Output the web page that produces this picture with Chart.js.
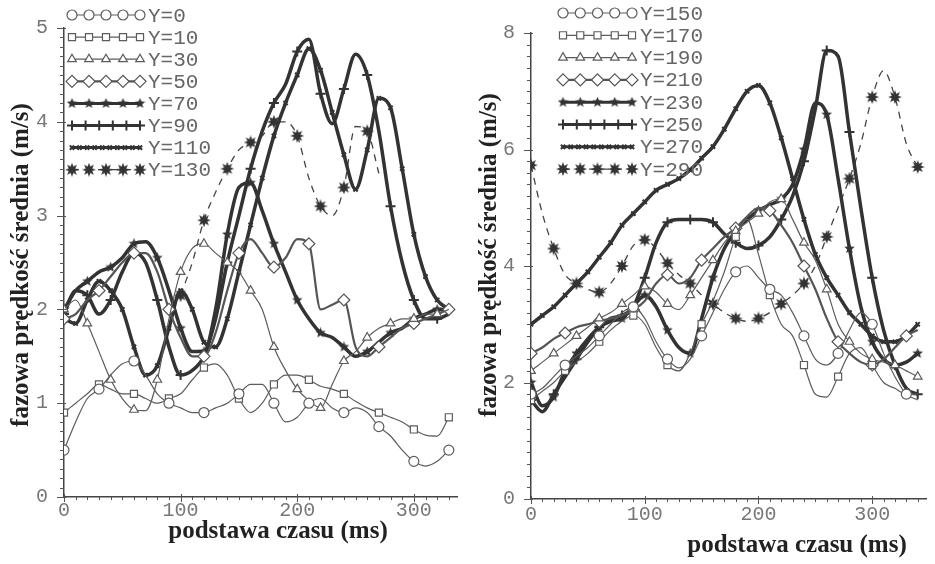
<!DOCTYPE html>
<html lang="pl">
<head>
    <meta charset="UTF-8">
    <title>fazowa prędkość średnia</title>
    <script src="https://cdn.jsdelivr.net/npm/chart.js"></script>
    <style>
        body {
            margin: 0;
            background: #fff;
            width: 935px;
            height: 564px;
            overflow: hidden;
            position: relative;
        }
        .panel {
            position: absolute;
            top: 0;
            width: 470px;
            height: 564px;
        }
        #left { left: 0; }
        #right { left: 465px; }
    </style>
</head>
<body>
    <div class="panel" id="left"><canvas id="chartLeft" width="470" height="564"></canvas></div>
    <div class="panel" id="right"><canvas id="chartRight" width="470" height="564"></canvas></div>

    <script>
        // time base (ms)
        const timeLeft = [0,10,20,30,40,50,60,70,80,90,100,110,120,130,140,150,160,170,180,190,200,210,220,230,240,250,260,270,280,290,300,310,320,330];
        const timeRight = [0,10,20,30,40,50,60,70,80,90,100,110,120,130,140,150,160,170,180,190,200,210,220,230,240,250,260,270,280,290,300,310,320,330,340];

        const namesLeft = ['Y=0', 'Y=10', 'Y=30', 'Y=50', 'Y=70', 'Y=90', 'Y=110', 'Y=130'];
        const namesRight = ['Y=150', 'Y=170', 'Y=190', 'Y=210', 'Y=230', 'Y=250', 'Y=270', 'Y=290'];

        // left panel, mean phase velocity (m/s)
        const vY0 = [0.5,0.8,1.05,1.15,1.3,1.42,1.45,1.3,1.1,1.0,0.95,0.9,0.9,0.95,1.0,1.1,1.2,1.2,1.0,0.8,0.85,1.0,1.05,0.95,0.9,0.95,0.9,0.75,0.65,0.5,0.38,0.33,0.38,0.5];
        const vY10 = [0.9,1.0,1.1,1.2,1.15,1.1,1.1,1.05,1.0,1.05,1.1,1.25,1.38,1.42,1.3,1.05,0.9,1.0,1.2,1.3,1.3,1.25,1.18,1.15,1.1,1.02,0.95,0.9,0.85,0.8,0.72,0.66,0.65,0.85];
        const vY30 = [2.0,2.1,1.85,1.55,1.25,1.05,0.93,0.92,1.25,1.9,2.4,2.65,2.7,2.6,2.5,2.4,2.2,2.0,1.6,1.35,1.15,1.03,0.95,1.2,1.45,1.55,1.7,1.8,1.85,1.9,1.9,1.95,1.95,2.0];
        const vY50 = [1.9,1.95,2.1,2.2,2.35,2.5,2.6,2.6,2.4,2.0,1.7,1.5,1.5,1.75,2.2,2.6,2.75,2.6,2.45,2.55,2.75,2.7,2.0,2.05,2.1,1.6,1.5,1.6,1.7,1.8,1.85,1.9,1.95,2.0];
        const vY70 = [2.0,2.2,2.3,2.4,2.45,2.55,2.7,2.72,2.55,2.2,1.8,1.55,1.55,2.0,2.8,3.3,3.35,3.05,2.7,2.4,2.1,1.9,1.75,1.7,1.6,1.5,1.55,1.65,1.75,1.8,1.9,1.95,2.0,2.0];
        const vY90 = [1.95,2.2,2.15,1.95,2.1,2.4,2.6,2.5,2.1,1.6,1.3,1.35,1.5,1.9,2.5,3.0,3.5,3.9,4.2,4.4,4.75,4.88,4.3,3.98,4.35,4.72,4.5,3.9,3.1,2.5,2.1,1.9,1.9,1.95];
        const vY110 = [1.9,1.85,2.1,2.3,2.2,2.0,1.6,1.3,1.4,1.8,2.2,2.0,1.65,1.6,1.9,2.4,2.9,3.4,3.85,4.2,4.5,4.78,4.55,4.1,3.65,3.28,3.7,4.25,4.15,3.5,2.8,2.35,2.1,2.0];
        const vY130 = [null,null,null,null,null,null,null,null,null,null,2.15,2.5,2.95,3.25,3.5,3.7,3.78,3.85,4.0,4.0,3.85,3.4,3.1,3.0,3.3,3.95,3.9,3.45,null,null,null,null,null,null];

        // right panel
        const vY150 = [1.8,1.9,2.1,2.3,2.45,2.6,2.8,3.0,3.2,3.3,3.1,2.7,2.4,2.25,2.4,2.8,3.2,3.6,3.9,4.0,3.8,3.6,3.5,3.2,2.8,2.4,2.3,2.5,2.9,3.2,3.0,2.5,2.1,1.8,1.7];
        const vY170 = [1.7,1.85,2.0,2.2,2.35,2.5,2.7,2.9,3.05,3.15,3.0,2.6,2.3,2.2,2.5,3.0,3.4,3.9,4.5,4.8,4.2,3.5,3.0,2.8,2.3,1.8,1.75,2.1,2.5,2.6,2.3,2.0,1.9,1.8,1.8];
        const vY190 = [2.2,2.35,2.5,2.65,2.8,2.95,3.1,3.2,3.35,3.5,3.65,3.55,3.35,3.25,3.5,3.8,4.1,4.4,4.6,4.75,4.9,5.1,5.15,4.8,4.4,4.1,3.6,3.0,2.7,2.5,2.4,2.35,2.3,2.2,2.1];
        const vY210 = [2.5,2.6,2.75,2.85,2.95,3.0,3.05,3.1,3.15,3.25,3.4,3.7,3.85,3.7,3.8,4.1,4.3,4.5,4.65,4.85,5.0,4.95,4.7,4.4,4.0,3.6,3.1,2.7,2.5,2.35,2.3,2.4,2.6,2.8,2.9];
        const vY230 = [2.0,1.6,1.75,2.2,2.5,2.75,2.95,3.05,3.1,3.3,3.5,3.3,2.9,2.6,2.5,3.1,3.8,4.3,4.6,4.8,4.95,5.05,5.15,5.4,6.0,6.8,6.6,5.5,4.3,3.3,2.7,2.4,2.3,2.35,2.5];
        const vY250 = [1.7,1.5,1.8,2.1,2.4,2.7,2.95,3.1,3.15,3.3,3.8,4.4,4.75,4.8,4.8,4.8,4.75,4.55,4.4,4.3,4.35,4.5,4.8,5.2,5.8,6.7,7.7,7.6,6.3,5.0,3.8,2.9,2.3,1.9,1.8];
        const vY270 = [3.0,3.15,3.3,3.5,3.7,3.9,4.15,4.4,4.7,4.9,5.1,5.3,5.4,5.5,5.65,5.85,6.05,6.35,6.7,7.0,7.1,6.8,6.2,5.5,4.8,4.2,3.8,3.5,3.2,3.0,2.8,2.7,2.7,2.8,3.0];
        const vY290 = [5.73,4.9,4.3,3.85,3.7,3.6,3.55,3.7,4.0,4.35,4.45,4.3,4.05,3.85,3.7,3.5,3.35,3.2,3.1,3.05,3.1,3.2,3.35,3.5,3.7,4.0,4.5,5.0,5.5,6.1,6.9,7.35,6.9,6.1,5.7];

        const valuesLeft = [vY0, vY10, vY30, vY50, vY70, vY90, vY110, vY130];
        const valuesRight = [vY150, vY170, vY190, vY210, vY230, vY250, vY270, vY290];

        // filled star / asterisk markers drawn once into small canvases
        function makeStar(size, points, inner, color) {
            const c = document.createElement('canvas');
            c.width = c.height = size;
            const g = c.getContext('2d');
            g.fillStyle = color;
            g.beginPath();
            for (let i = 0; i < points * 2; i++) {
                const r = (i % 2 ? inner : 1) * size / 2;
                const a = Math.PI * i / points - Math.PI / 2;
                g.lineTo(size / 2 + r * Math.cos(a), size / 2 + r * Math.sin(a));
            }
            g.closePath();
            g.fill();
            return c;
        }
        const star5 = makeStar(11, 5, 0.45, '#333');
        const blob8 = makeStar(14, 8, 0.5, '#333');

        // line style for each of the 8 series (same order in both panels)
        const styles = [
            { color: '#5c5c5c', width: 1.2, point: 'circle', r: 5, every: 3, marks: 5, lr: 5 },
            { color: '#5c5c5c', width: 1.2, point: 'rect', r: 5, every: 3, marks: 5, lr: 5 },
            { color: '#5c5c5c', width: 1.2, point: 'triangle', r: 5, every: 2, marks: 5, lr: 5 },
            { color: '#555', width: 2.2, point: 'rectRot', r: 6, every: 3, marks: 5, lr: 6 },
            { color: '#333', width: 3.5, point: star5, r: 5, every: 2, marks: 5, lr: 5 },
            { color: '#333', width: 3.5, point: 'cross', r: 5, every: 2, marks: 6, lr: 5 },
            { color: '#333', width: 3.5, point: 'crossRot', r: 3, every: 1, marks: 10, lr: 3 },
            { color: '#444', width: 1.3, point: blob8, r: 7, every: 2, marks: 5, lr: 7, dash: [7, 6] }
        ];

        function buildDatasets(times, names, values) {
            return names.map((name, i) => {
                const s = styles[i];
                return {
                    label: name,
                    data: times.map((t, k) => ({ x: t, y: values[i][k] })),
                    borderColor: s.color,
                    borderWidth: s.width,
                    borderDash: s.dash || [],
                    cubicInterpolationMode: 'monotone',
                    fill: false,
                    spanGaps: false,
                    pointStyle: s.point,
                    pointBackgroundColor: '#fff',
                    pointBorderColor: s.color,
                    pointBorderWidth: s.width > 3 ? 2 : 1.2,
                    pointRadius: ctx => (ctx.dataIndex % s.every === 0 ? s.r : 0),
                    legendMarks: s.marks,
                    legendRadius: s.lr
                };
            });
        }

        // tick marks, axis titles and the in-plot legend
        const panelDecor = {
            id: 'panelDecor',
            afterDraw(chart, args, o) {
                const ctx = chart.ctx;
                const xs = chart.scales.x;
                const ys = chart.scales.y;
                ctx.save();

                ctx.strokeStyle = '#555';
                ctx.lineWidth = 1;
                ctx.beginPath();
                const nx = Math.floor((xs.max - xs.min) / o.xMinor + 1e-6);
                for (let i = 0; i <= nx; i++) {
                    const px = Math.round(xs.getPixelForValue(xs.min + i * o.xMinor)) + 0.5;
                    const major = i % o.xMajorEvery === 0;
                    ctx.moveTo(px, ys.bottom - (major ? 3 : 0));
                    ctx.lineTo(px, ys.bottom + (major ? 5 : 3));
                }
                const ny = Math.floor((ys.max - ys.min) / o.yMinor + 1e-6);
                for (let i = 0; i <= ny; i++) {
                    const py = Math.round(ys.getPixelForValue(ys.min + i * o.yMinor)) + 0.5;
                    const major = i % o.yMajorEvery === 0;
                    ctx.moveTo(xs.left - (major ? 7 : 4), py);
                    ctx.lineTo(xs.left + (major ? 2 : 0), py);
                }
                ctx.stroke();

                // axis titles
                ctx.fillStyle = '#222';
                ctx.font = 'bold 25px "Liberation Serif"';
                ctx.textAlign = 'center';
                ctx.textBaseline = 'middle';
                ctx.fillText(o.xTitle, o.xTitleX, o.xTitleY);
                ctx.save();
                ctx.translate(o.yTitleX, o.yTitleY);
                ctx.rotate(-Math.PI / 2);
                ctx.fillText(o.yTitle, 0, 0);
                ctx.restore();

                // legend
                ctx.font = '21px "Liberation Mono"';
                ctx.textAlign = 'left';
                chart.data.datasets.forEach((ds, i) => {
                    const y = o.legendY + i * o.legendDy;
                    const x1 = o.legendX;
                    const x2 = o.legendX + o.legendLen;
                    ctx.strokeStyle = ds.borderColor;
                    ctx.lineWidth = Math.min(ds.borderWidth, 3);
                    ctx.setLineDash(ds.borderDash);
                    ctx.beginPath();
                    ctx.moveTo(x1, y);
                    ctx.lineTo(x2, y);
                    ctx.stroke();
                    ctx.setLineDash([]);
                    ctx.fillStyle = ds.pointBackgroundColor;
                    ctx.lineWidth = ds.pointBorderWidth;
                    for (let k = 0; k < ds.legendMarks; k++) {
                        const mx = x1 + (x2 - x1) * k / (ds.legendMarks - 1);
                        Chart.helpers.drawPoint(ctx, {
                            pointStyle: ds.pointStyle,
                            radius: ds.legendRadius,
                            rotation: 0,
                            borderWidth: ds.pointBorderWidth
                        }, mx, y);
                    }
                    ctx.fillStyle = '#666';
                    ctx.fillText(ds.label, o.legendX + o.legendLen + 8, y + 1);
                });
                ctx.restore();
            }
        };

        function makeChart(canvasId, times, names, values, cfg) {
            const tickFont = { family: 'Liberation Mono', size: 20 };
            return new Chart(document.getElementById(canvasId), {
                type: 'line',
                data: { datasets: buildDatasets(times, names, values) },
                options: {
                    responsive: false,
                    animation: false,
                    devicePixelRatio: 1,
                    events: [],
                    layout: { padding: { left: 0, right: cfg.padRight, top: cfg.padTop, bottom: 0 } },
                    plugins: {
                        legend: { display: false },
                        tooltip: { enabled: false },
                        panelDecor: cfg.decor
                    },
                    scales: {
                        x: {
                            type: 'linear',
                            min: 0,
                            max: cfg.xMax,
                            afterFit: s => { s.height = cfg.xAxisH; },
                            ticks: { stepSize: 100, includeBounds: false, autoSkip: false, maxRotation: 0, padding: cfg.xLabelPad, color: '#777', font: tickFont },
                            grid: { display: false, drawTicks: false },
                            border: { color: '#444', width: 1.5 }
                        },
                        y: {
                            type: 'linear',
                            min: 0,
                            max: cfg.yMax,
                            afterFit: s => { s.width = cfg.yAxisW; },
                            ticks: { stepSize: cfg.yStep, includeBounds: false, padding: 16, color: '#777', font: tickFont },
                            grid: { display: false, drawTicks: false },
                            border: { color: '#444', width: 1.5 }
                        }
                    }
                },
                plugins: [panelDecor]
            });
        }

        makeChart('chartLeft', timeLeft, namesLeft, valuesLeft, {
            xMax: 337, yMax: 5, yStep: 1, padRight: 13, padTop: 27, xAxisH: 67, yAxisW: 64, xLabelPad: 2,
            decor: {
                xMinor: 10, xMajorEvery: 10, yMinor: 0.1, yMajorEvery: 10,
                xTitle: 'podstawa czasu (ms)', xTitleX: 278, xTitleY: 532,
                yTitle: 'fazowa prędkość średnia (m/s)', yTitleX: 22, yTitleY: 265,
                legendX: 72, legendLen: 68, legendY: 15, legendDy: 22.1
            }
        });

        makeChart('chartRight', timeRight, namesRight, valuesRight, {
            xMax: 348, yMax: 8, yStep: 2, padRight: 7, padTop: 33, xAxisH: 65, yAxisW: 66, xLabelPad: 4,
            decor: {
                xMinor: 10, xMajorEvery: 10, yMinor: 0.2, yMajorEvery: 10,
                xTitle: 'podstawa czasu (ms)', xTitleX: 332, xTitleY: 546,
                yTitle: 'fazowa prędkość średnia (m/s)', yTitleX: 25, yTitleY: 255,
                legendX: 98, legendLen: 69, legendY: 13, legendDy: 22.3
            }
        });
    </script>
</body>
</html>
